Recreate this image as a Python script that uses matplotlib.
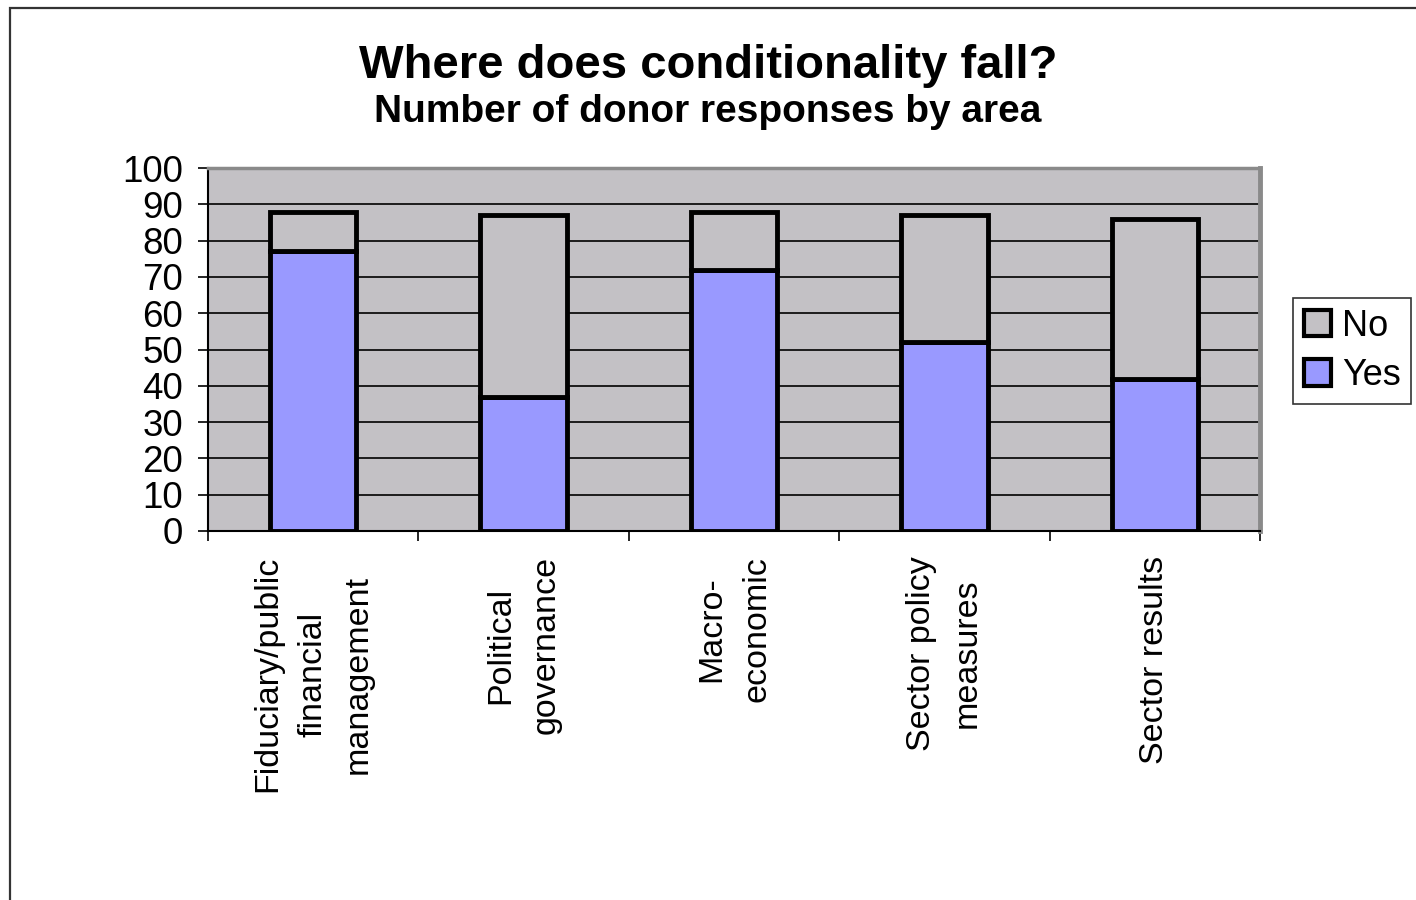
import matplotlib.pyplot as plt
import matplotlib.patches as mpatches
import numpy as np

plt.rcParams['font.family'] = ['Liberation Sans', 'DejaVu Sans']

''' Data '''
areas = ['Fiduciary/public\nfinancial\nmanagement', 'Political\ngovernance',
         'Macro-\neconomic', 'Sector policy\nmeasures', 'Sector results']
yes = [77, 37, 72, 52, 42]
no = [11, 50, 16, 35, 44]

''' Colours '''
c_yes = '#9999FF'
c_no = '#C3C1C5'
c_back = '#C3C1C5'

fig = plt.figure(figsize=(14.16, 9), dpi=100)
W, H = 1416.0, 900.0

# chart area border (left and top edge visible)
fig.patches.append(mpatches.Rectangle((10 / W, -0.1), 1.2, 1 - 8 / H + 0.1, transform=fig.transFigure,
                                      fill=False, edgecolor='#333333', lw=1.6))

ax = fig.add_axes([208 / W, 1 - 531 / H, (1260 - 208) / W, (531 - 168) / H])
ax.set_facecolor(c_back)

x = np.arange(len(areas))
ax.bar(x, yes, width=0.41, color=c_yes, edgecolor='black', linewidth=3.5, zorder=3, label='Yes')
ax.bar(x, no, width=0.41, bottom=yes, color=c_no, edgecolor='black', linewidth=3.5, zorder=3, label='No')

ax.set_xlim(-0.5, len(areas) - 0.5)
ax.set_ylim(0, 100)
ax.set_yticks(np.arange(0, 101, 10))
for v in range(10, 100, 10):
    ax.axhline(v, color='black', lw=1.2, zorder=1)

ax.tick_params(axis='y', direction='out', length=7, width=1.2, labelsize=26.5, pad=11)
ax.set_xticks(x)
ax.set_xticklabels(areas, rotation=90, fontsize=24.5, ha='center', va='top',
                   multialignment='center', linespacing=1.6)
ax.tick_params(axis='x', length=0, pad=18)
ax.set_xticks(np.arange(-0.5, len(areas), 1.0), minor=True)
ax.tick_params(axis='x', which='minor', direction='out', length=7, width=1.2)

ax.spines['left'].set_color('black')
ax.spines['left'].set_linewidth(1.5)
ax.spines['bottom'].set_color('black')
ax.spines['bottom'].set_linewidth(1.5)
ax.spines['top'].set_color('#8a8a8a')
ax.spines['top'].set_linewidth(2.5)
ax.spines['right'].set_color('#8a8a8a')
ax.spines['right'].set_linewidth(3.5)

fig.text(0.5, 1 - 78 / H, 'Where does conditionality fall?', ha='center', va='baseline',
         fontsize=34, fontweight='bold')
fig.text(0.5, 1 - 122 / H, 'Number of donor responses by area', ha='center', va='baseline',
         fontsize=28, fontweight='bold')

h_no = mpatches.Patch(facecolor=c_no, edgecolor='black', linewidth=3)
h_yes = mpatches.Patch(facecolor=c_yes, edgecolor='black', linewidth=3)
leg = fig.legend([h_no, h_yes], ['No', 'Yes'], loc='upper left',
                 bbox_to_anchor=(1293 / W, 1 - 298 / H), fontsize=26, frameon=True,
                 fancybox=False, edgecolor='black', handlelength=0.75, handleheight=0.75,
                 handletextpad=0.3, borderpad=0.3, labelspacing=0.4, borderaxespad=0)
leg.get_frame().set_linewidth(1.2)

plt.savefig('out.png', dpi=100)
